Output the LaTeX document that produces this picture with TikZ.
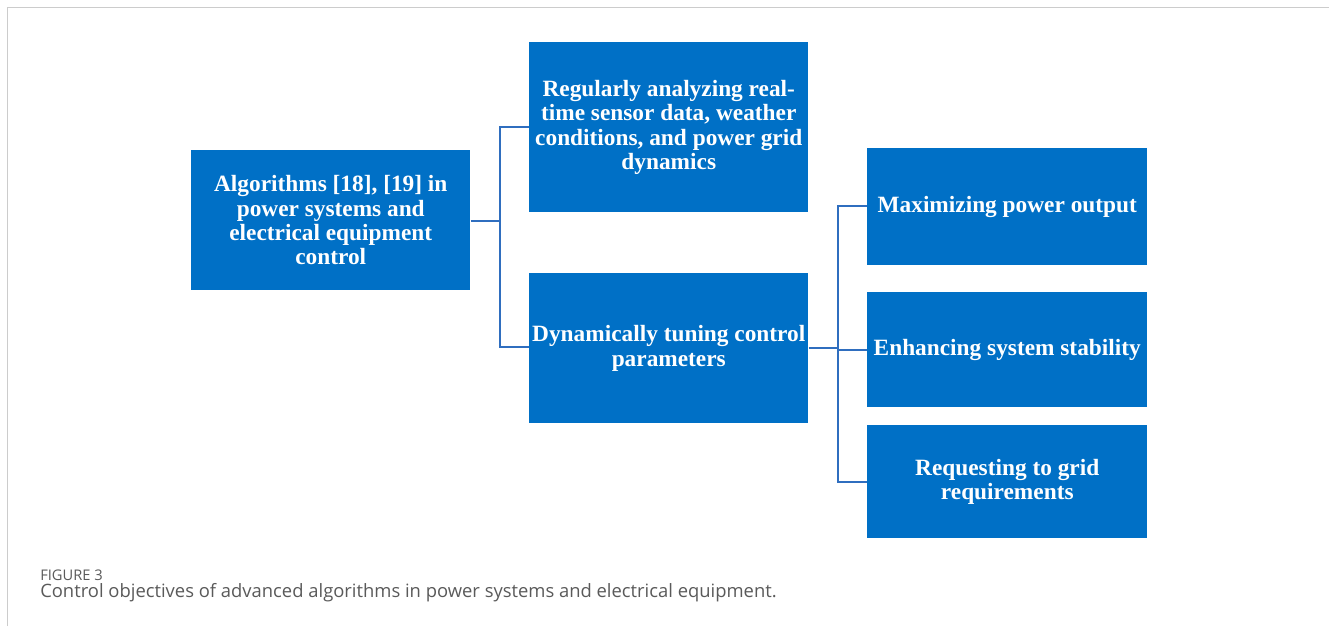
\documentclass[tikz,border=0pt]{standalone}
\usepackage{fontspec}
\setmainfont{Liberation Serif}
\setsansfont{Open Sans}
\begin{document}
\begin{tikzpicture}[x=0.75pt,y=-0.75pt,
  box/.style={draw=none,fill=boxblue,text=white,anchor=north west,inner sep=0pt,
    font=\fontsize{17.5}{18.3}\selectfont\bfseries,align=center},
  link/.style={draw=linkblue,line width=1.1pt},
  frameline/.style={draw=framegrey,line width=1.2pt}]
\definecolor{boxblue}{HTML}{0070C6}
\definecolor{linkblue}{HTML}{2F6EBF}
\definecolor{framegrey}{HTML}{CCCCCC}
\definecolor{capgrey}{HTML}{5A5A5A}
\useasboundingbox (0,0) rectangle (1329,626);
\fill[white] (0,0) rectangle (1329,626);
% page frame
\draw[frameline] (7.5,626) -- (7.5,7.5) -- (1329,7.5);
% boxes
\node[box,minimum width=279*0.75pt,minimum height=140*0.75pt] (alg) at (191,150)
  {Algorithms [18], [19] in\\power systems and\\electrical equipment\\control};
\node[box,minimum width=279*0.75pt,minimum height=170*0.75pt] (anl) at (529,42)
  {Regularly analyzing real-\\time sensor data, weather\\conditions, and power grid\\dynamics};
\node[box,minimum width=279*0.75pt,minimum height=150*0.75pt] (tun) at (529,273)
  {Dynamically tuning control\\parameters};
\node[box,minimum width=280*0.75pt,minimum height=117*0.75pt] (max) at (867,148)
  {Maximizing power output};
\node[box,minimum width=280*0.75pt,minimum height=115*0.75pt] (enh) at (867,292)
  {Enhancing system stability};
\node[box,minimum width=280*0.75pt,minimum height=113*0.75pt] (req) at (867,425)
  {Requesting to grid\\requirements};
% tree connectors
\coordinate (j1) at (500,221);
\coordinate (j2) at (838,348);
\draw[link] (alg.east |- j1) -- (j1);
\draw[link] (anl.west |- 0,127) -| (j1) |- (tun.west |- 0,347);
\draw[link] (tun.east |- j2) -- (j2);
\draw[link] (max.west |- 0,206) -| (j2) |- (req.west |- 0,482);
\draw[link] (j2 |- 0,350) -- (enh.west |- 0,350);
% caption
\node[anchor=base west,inner sep=0pt,text=capgrey,font=\sffamily\fontsize{11}{13}\selectfont] (fig) at (40,580) {FIGURE 3};
\node[anchor=base west,inner sep=0pt,text=capgrey,font=\sffamily\fontsize{13.8}{16}\selectfont] (cap) at (40,597)
  {Control objectives of advanced algorithms in power systems and electrical equipment.};
\end{tikzpicture}
\end{document}
